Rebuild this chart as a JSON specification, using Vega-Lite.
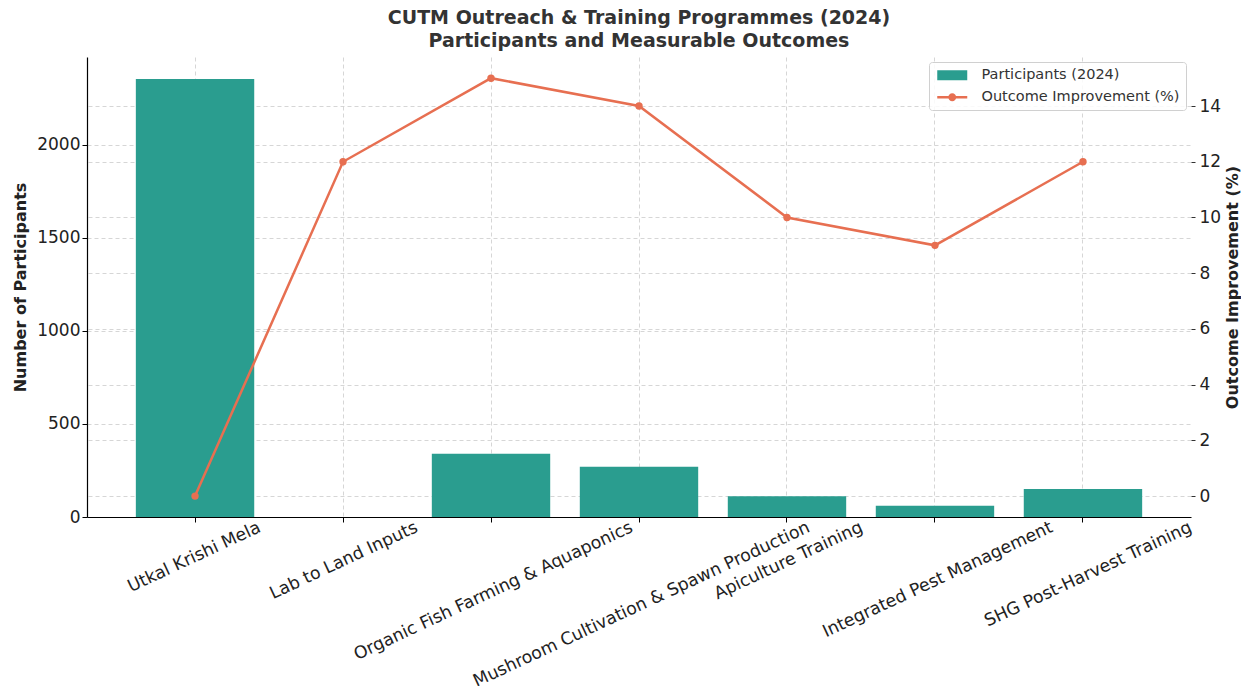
{
  "$schema": "https://vega.github.io/schema/vega-lite/v6.json",
  "width": 1104,
  "height": 460,
  "padding": {"left": 12, "top": 9, "right": 0, "bottom": 0},
  "autosize": {"type": "pad"},
  "background": "white",
  "config": {
    "font": "DejaVu Sans",
    "view": {"stroke": null},
    "axis": {"labelFont": "DejaVu Sans", "titleFont": "DejaVu Sans"}
  },
  "title": {
    "text": ["CUTM Outreach & Training Programmes (2024)", "Participants and Measurable Outcomes"],
    "font": "DejaVu Sans",
    "fontSize": 19,
    "fontWeight": "bold",
    "color": "#333333",
    "lineHeight": 23,
    "anchor": "middle",
    "offset": 6
  },
  "data": {
    "values": [
      {"program": "Utkal Krishi Mela", "participants": 2355, "improvement": 0},
      {"program": "Lab to Land Inputs", "participants": 0, "improvement": 12},
      {"program": "Organic Fish Farming & Aquaponics", "participants": 340, "improvement": 15},
      {"program": "Mushroom Cultivation & Spawn Production", "participants": 270, "improvement": 14},
      {"program": "Apiculture Training", "participants": 112, "improvement": 10},
      {"program": "Integrated Pest Management", "participants": 60, "improvement": 9},
      {"program": "SHG Post-Harvest Training", "participants": 150, "improvement": 12}
    ]
  },
  "encoding": {
    "x": {
      "field": "program",
      "type": "nominal",
      "sort": null,
      "scale": {"paddingInner": 0.2, "paddingOuter": 0.33},
      "axis": {
        "title": null,
        "labelAngle": -25,
        "labelAlign": "right",
        "labelBaseline": "top",
        "labelFontSize": 17.3,
        "labelColor": "#222222",
        "labelPadding": -4,
        "labelOffset": {
          "condition": [
            {"test": "datum.value == 'Utkal Krishi Mela'", "value": 61},
            {"test": "datum.value == 'Lab to Land Inputs'", "value": 70},
            {"test": "datum.value == 'Organic Fish Farming & Aquaponics'", "value": 137},
            {"test": "datum.value == 'Mushroom Cultivation & Spawn Production'", "value": 166},
            {"test": "datum.value == 'Apiculture Training'", "value": 71},
            {"test": "datum.value == 'Integrated Pest Management'", "value": 113}
          ],
          "value": 104
        },
        "labelLimit": 0,
        "tickSize": 5,
        "tickColor": "#000000",
        "domainColor": "#000000",
        "domainWidth": 1.2,
        "grid": true,
        "gridColor": "#cccccc",
        "gridDash": [4, 3],
        "gridWidth": 0.8,
        "bandPosition": 0.5
      }
    }
  },
  "layer": [
    {
      "mark": {"type": "bar", "color": "#2a9d8f"},
      "encoding": {
        "y": {
          "field": "participants",
          "type": "quantitative",
          "scale": {"domain": [0, 2473], "nice": false, "zero": false},
          "axis": {
            "title": "Number of Participants",
            "titleFontSize": 16,
            "titleFontWeight": "bold",
            "titleColor": "#222222",
            "titlePadding": 8,
            "values": [0, 500, 1000, 1500, 2000],
            "format": "d",
            "labelFontSize": 17,
            "labelColor": "#222222",
            "tickSize": 5,
            "tickColor": "#000000",
            "domainColor": "#000000",
            "domainWidth": 1.2,
            "grid": true,
            "gridColor": "#cccccc",
            "gridDash": [4, 3],
            "gridWidth": 0.8
          }
        },
        "color": {
          "datum": "Participants (2024)",
          "type": "nominal",
          "scale": {
            "domain": ["Participants (2024)", "Outcome Improvement (%)"],
            "range": ["#2a9d8f", "#e76f51"]
          },
          "legend": {
            "title": null,
            "orient": "top-right",
            "offset": 5,
            "fillColor": "rgba(255,255,255,0.85)",
            "strokeColor": "#d0d0d0",
            "cornerRadius": 3,
            "padding": 6,
            "labelFont": "DejaVu Sans",
            "labelFontSize": 14.5,
            "labelColor": "#333333",
            "labelLimit": 0,
            "rowPadding": 7,
            "symbolSize": 100,
            "labelOffset": 32,
            "encode": {
              "symbols": {
                "update": {
                  "shape": {"signal": "datum.value == 'Participants (2024)' ? 'M-1,-1H5V1H-1Z' : 'M-1,-0.25H5V0.25H-1Z M2.8,0 A0.8,0.8 0 1,1 1.2,0 A0.8,0.8 0 1,1 2.8,0Z'"},
                  "fill": {"scale": "color", "field": "value"},
                  "fillOpacity": {"value": 1},
                  "opacity": {"value": 1},
                  "strokeWidth": {"value": 0}
                }
              }
            }
          }
        }
      }
    },
    {
      "mark": {"type": "line", "strokeWidth": 2.5, "point": {"filled": true, "size": 55, "color": "#e76f51"}},
      "encoding": {
        "y": {
          "field": "improvement",
          "type": "quantitative",
          "scale": {"domain": [-0.75, 15.76], "nice": false, "zero": false},
          "axis": {
            "orient": "right",
            "title": "Outcome Improvement (%)",
            "titleFontSize": 16,
            "titleFontWeight": "bold",
            "titleColor": "#222222",
            "titleAngle": 270,
            "titleBaseline": "top",
            "titlePadding": 4,
            "values": [0, 2, 4, 6, 8, 10, 12, 14],
            "labelFontSize": 17,
            "labelColor": "#222222",
            "labelPadding": 4,
            "tickSize": 4,
            "tickColor": "#333333",
            "domain": false,
            "grid": true,
            "gridColor": "#cccccc",
            "gridDash": [4, 3],
            "gridWidth": 0.8
          }
        },
        "color": {"datum": "Outcome Improvement (%)", "type": "nominal"}
      }
    }
  ],
  "resolve": {"scale": {"y": "independent"}}
}
